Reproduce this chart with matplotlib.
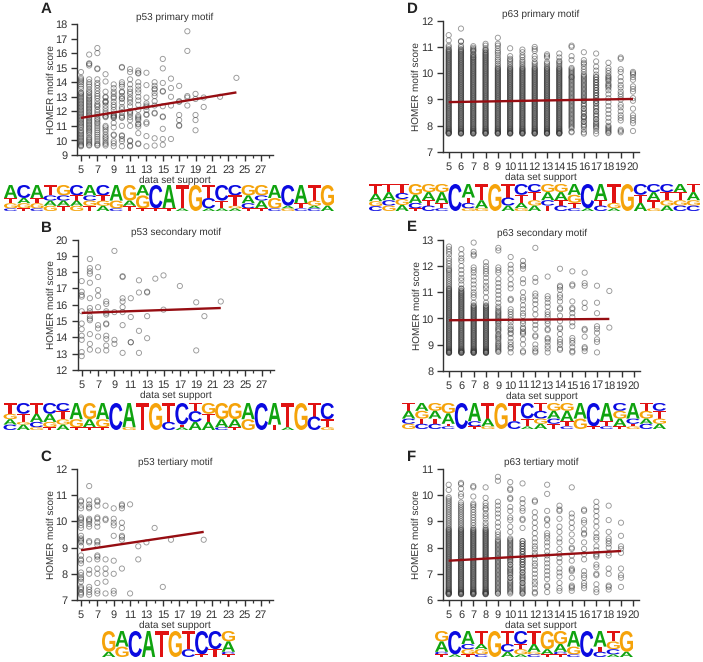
import matplotlib
matplotlib.use('Agg')
import matplotlib.pyplot as plt
from matplotlib.font_manager import FontProperties
from matplotlib.patches import PathPatch
from matplotlib.textpath import TextPath
from matplotlib.transforms import Affine2D
from matplotlib.ticker import MultipleLocator
import re

plt.rcParams['font.family'] = ['Liberation Sans', 'DejaVu Sans']
plt.rcParams['text.hinting'] = 'no_hinting'
plt.rcParams['text.hinting_factor'] = 1

# --- panel A, p53 primary
a_support = [5, 6, 7, 8, 9, 10, 11, 12, 13, 14, 15, 16, 17, 18, 19, 20, 22, 24]
a_scores = [
    [9.6,9.65,9.7,9.8,9.9,10.0,10.1,10.2,10.3,10.4,10.5,10.6,10.7,10.85,10.95,11.05,11.15,11.25,11.35,11.45,11.55,11.65,11.75,11.85,11.95,12.05,12.15,12.25,12.35,12.45,12.55,12.65,12.75,12.85,12.95,13.05,13.15,13.25,13.3,13.55,13.7,13.85,14.0,14.1,14.2,14.3,14.7],
    [9.65,9.7,9.8,9.9,10.0,10.1,10.2,10.35,10.5,10.6,10.7,10.8,10.9,11.0,11.1,11.2,11.3,11.4,11.5,11.6,11.7,11.8,11.9,12.0,12.1,12.2,12.3,12.4,12.5,12.6,12.7,12.8,12.9,13.0,13.1,13.25,13.35,13.5,13.7,13.85,14.0,14.2,15.15,15.25,15.3,15.9],
    [9.65,9.7,9.8,9.95,10.1,10.25,10.4,10.55,10.7,10.85,11.0,11.15,11.25,11.4,11.5,11.65,11.8,11.95,12.1,12.3,12.4,12.5,12.7,12.9,13.05,13.2,13.4,13.6,13.8,13.95,14.2,14.9,14.95,16.0,16.35],
    [9.65,9.75,9.85,10.0,10.15,10.25,10.4,10.6,10.75,10.9,11.0,11.6,11.65,11.7,11.85,12.0,12.2,12.4,12.6,12.65,12.7,12.95,13.0,13.35,14.05,14.55],
    [9.6,9.8,9.95,10.35,10.4,10.9,11.2,11.55,11.6,11.65,11.7,11.75,11.85,12.1,12.3,12.45,12.65,12.9,13.0,13.2,13.35,13.6,13.85],
    [9.6,9.95,10.1,10.3,10.35,11.0,11.55,11.6,11.7,11.9,12.15,12.3,12.6,12.85,12.9,13.05,13.3,13.35,13.7,13.85,14.0,15.0,15.05],
    [9.6,9.65,9.95,10.0,11.0,11.4,11.6,11.8,11.9,12.0,12.35,12.6,12.8,12.95,13.2,13.35,13.55,13.85,14.2,14.7,14.9],
    [9.75,9.8,10.5,10.95,11.1,11.15,11.4,11.5,11.6,11.7,12.1,12.45,12.75,13.0,13.3,13.5,13.75,14.0,14.6,14.65,14.8],
    [9.6,10.3,11.15,11.25,11.75,11.8,12.1,12.3,12.4,12.55,12.95,13.8,14.65],
    [9.65,10.15,11.85,11.9,12.4,12.7,13.05,13.25,13.5,13.55,13.75,14.0],
    [9.7,10.1,10.8,11.6,11.65,12.35,13.35,13.4,13.95,14.95,15.6],
    [10.1,12.4,13.0,13.6,14.25],
    [11.0,11.05,11.4,11.75,12.65,12.7,13.75],
    [12.4,12.95,13.05,16.15,17.5],
    [10.7,11.4,11.75,12.85,13.2],
    [12.3,12.95],
    [13.0],
    [14.3],
]
a_fit_x = [5, 24]
a_fit_y = [11.55, 13.3]

# --- panel B, p53 secondary
b_support = [5, 6, 7, 8, 9, 10, 11, 12, 13, 14, 15, 17, 19, 20, 22]
b_scores = [
    [12.85,13.1,13.85,14.1,14.5,14.85,15.6,16.5,16.6,16.8,17.45],
    [13.25,13.6,14.2,15.05,15.15,15.3,15.6,15.8,16.4,17.35,17.9,18.05,18.25,18.8],
    [13.2,14.05,14.55,14.75,15.85,16.55,16.9,17.7,18.3],
    [13.2,13.5,13.9,14.1,14.8,14.85,15.4,15.5,15.6,16.05,16.2],
    [13.6,13.85,15.55,19.3],
    [13.05,14.75,15.55,15.85,16.2,16.4,17.7,17.75],
    [13.7,13.7,15.25,16.4],
    [13.05,14.4,16.75,17.5],
    [13.95,15.3,16.75,16.8],
    [17.6],
    [15.7,17.8],
    [17.15],
    [13.2,16.15],
    [15.3],
    [16.2],
]
b_fit_x = [5, 22]
b_fit_y = [15.5, 15.8]

# --- panel C, p53 tertiary
c_support = [5, 6, 7, 8, 9, 10, 11, 12, 13, 14, 15, 16, 20]
c_scores = [
    [7.2,7.25,7.3,7.4,7.45,7.5,7.7,7.8,7.85,7.95,8.05,8.4,8.5,8.55,8.7,9.05,9.2,9.25,9.3,9.35,9.45,9.75,9.85,9.95,10.05,10.1,10.15,10.5,10.6,10.75,10.8],
    [7.2,7.3,7.4,7.5,8.0,8.15,8.55,9.2,9.25,9.8,9.9,10.0,10.05,10.1,10.5,10.55,10.65,10.8,11.35],
    [7.25,7.35,7.65,8.0,8.2,8.55,8.65,8.7,9.1,9.2,9.25,9.8,9.95,10.1,10.15,10.6,10.75,10.8],
    [7.25,7.7,8.0,8.2,8.55,10.05,10.1,10.6],
    [7.25,7.35,8.0,8.5,9.45,9.85,9.95,10.1,10.5],
    [8.2,9.3,9.4,9.45,9.75,9.95,10.5,10.6,10.65],
    [7.25,10.65],
    [8.55,9.05],
    [9.2],
    [9.75],
    [7.5],
    [9.3],
    [9.3],
]
c_fit_x = [5, 20]
c_fit_y = [8.9, 9.6]

# --- panel D, p63 primary (lower part of the columns is solid, so it is shared)
d_support = [5, 6, 7, 8, 9, 10, 11, 12, 13, 14, 15, 16, 17, 18, 19, 20]
d_core = [7.70,7.72,7.75,7.80,7.85,7.91,7.98,8.05,8.12,8.19,8.26,8.33,8.40,8.47,8.54,8.61,8.68,8.75,8.82,8.89,8.96,9.03,9.10,9.17,9.24,9.31,9.38,9.45,9.52,9.59,9.66,9.73,9.80,9.87,9.94,10.01,10.08,10.15,
          7.71,7.73,7.77,7.82,7.88,7.94,8.01,8.08,8.15,8.22,8.29,8.36,8.43,8.50,8.57,8.64,8.71,8.78,8.85,8.92,8.99,9.06,9.13,9.20,9.27,9.34,9.41,9.48,9.55,9.62,9.69,9.76,9.83,9.90,9.97,10.04,10.11,10.18]
d_upper = [10.25,10.32,10.39,10.46,10.53,10.6,10.67,10.74,10.81,10.88]
d_mid = [7.95,8.05,8.15,8.25,8.35,8.45,8.55,8.65,8.75,8.85,8.95,9.05,9.15,9.25,9.35,9.45,9.55,9.65,9.75,9.85]
d_scores = [
    d_core + d_upper + [10.22,10.29,10.36,10.43,10.50,10.57,10.64,10.71,10.78,10.85,10.92,10.99,11.05,11.25,11.45],
    d_core + d_upper + [10.22,10.29,10.36,10.43,10.50,10.57,10.64,10.71,10.78,10.85,10.92,10.99,11.05,11.2,11.22,11.7],
    d_core + d_upper + [10.22,10.29,10.36,10.43,10.50,10.57,10.62,10.7,10.85,10.92,10.97,11.03],
    d_core + d_upper + [10.22,10.29,10.36,10.43,10.50,10.57,10.64,10.71,10.78,10.88,10.95,11.05,11.12],
    d_core + [10.22,10.29,10.36,10.45,10.52,10.6,10.7,10.78,10.85,10.95,11.05,11.12,11.35],
    d_core + [10.22,10.29,10.36,10.43,10.5,10.55,10.65,10.95],
    d_core + [10.22,10.29,10.36,10.43,10.5,10.6,10.68,10.8,10.9],
    d_core + [10.22,10.29,10.36,10.42,10.55,10.65,10.85,10.92,11.0],
    d_core + [10.22,10.29,10.36,10.42,10.6,10.66,10.72],
    d_core + [10.22,10.29,10.36,10.42,10.47,10.6,10.75],
    d_mid + [7.75,7.78,7.9,8.0,8.1,8.2,8.3,8.4,8.5,8.6,8.7,8.8,8.9,9.0,9.1,9.2,9.3,9.4,9.5,9.6,9.7,9.8,9.85,9.9,9.95,10.0,10.05,10.1,10.15,10.2,10.5,10.65,11.0,11.05],
    d_mid + [7.7,7.75,7.85,8.0,8.15,8.3,8.35,8.5,8.65,8.8,8.95,9.0,9.1,9.2,9.3,9.4,9.5,9.6,9.7,9.8,9.9,9.95,10.05,10.15,10.25,10.35,10.4,10.5,10.8],
    d_mid + [7.7,7.8,7.9,8.0,8.1,8.25,8.4,8.55,8.7,8.85,8.95,9.05,9.15,9.25,9.35,9.45,9.55,9.65,9.75,9.85,9.95,10.1,10.25,10.45,10.75],
    [7.72,7.8,7.9,8.0,8.15,8.3,8.45,8.6,8.75,8.9,9.05,9.2,9.35,9.45,9.55,9.75,9.8,9.85,10.0,10.1,10.2,10.4,7.75,7.85,7.95,9.5,9.6,9.7,9.9],
    [7.75,7.8,7.85,8.2,8.3,8.4,8.55,8.7,8.8,9.0,9.1,9.2,9.3,9.45,9.55,9.7,9.85,10.05,10.15,10.55,10.6],
    [7.8,8.1,8.2,8.3,8.4,8.65,8.95,9.05,9.3,9.4,9.5,9.75,9.85,9.95,10.0,10.05],
]
d_fit_x = [5, 20]
d_fit_y = [8.9, 9.02]

# --- panel E, p63 secondary
e_support = [5, 6, 7, 8, 9, 10, 11, 12, 13, 14, 15, 16, 17, 18]
e_core = [8.68,8.7,8.72,8.76,8.8,8.86,8.93,9.0,9.07,9.14,9.21,9.28,9.35,9.42,9.49,9.56,9.63,9.7,9.77,9.84,9.91,9.98,10.05,10.12,10.19,10.26,10.33,10.4,10.47,
          8.69,8.71,8.74,8.78,8.83,8.89,8.96,9.03,9.1,9.17,9.24,9.31,9.38,9.45,9.52,9.59,9.66,9.73,9.8,9.87,9.94,10.01,10.08,10.15,10.22,10.29,10.36,10.43,10.5]
e_upper = [10.57,10.64,10.71,10.78,10.85,10.92,10.99,11.06,11.13]
e_mid = [8.72,8.8,8.9,9.0,9.12,9.25,9.35,9.5,9.6,9.72,9.85,9.95,10.05,10.15,10.25,10.38]
e_scores = [
    e_core + e_upper + [10.54,10.61,10.68,10.75,10.82,10.89,10.96,11.03,11.1,11.17,11.24,11.31,11.38,11.45,11.52,11.59,11.66,11.73,11.8,11.85,11.9,12.0,12.1,12.2,12.3,12.45,12.55,12.65,12.75],
    e_core + e_upper + [10.54,10.61,10.68,10.75,10.82,10.89,10.96,11.03,11.15,11.3,11.45,11.55,11.7,11.85,12.0,12.2,12.3,12.45,12.65],
    e_core + [10.6,10.8,10.9,11.0,11.15,11.3,11.45,11.6,11.75,11.85,11.95,12.4,12.45,12.55,12.9],
    e_core + [10.6,10.8,11.0,11.15,11.25,11.4,11.55,11.7,11.8,11.9,12.0,12.15],
    e_mid + [8.75,8.85,8.95,9.05,9.2,9.3,9.4,9.55,9.65,9.8,9.9,10.0,10.1,10.2,10.3,10.45,10.6,10.75,10.9,11.05,11.2,11.35,11.5,11.75,11.85,11.95,12.6,12.7],
    [8.7,8.85,8.9,9.0,9.1,9.25,9.4,9.45,9.55,9.6,9.7,9.85,9.95,10.05,10.15,10.25,10.35,10.7,10.75,11.15,11.3,11.5,11.75,11.9,12.05,12.35],
    [8.7,8.75,9.0,9.2,9.4,9.45,9.5,9.6,9.65,9.8,9.9,10.1,10.2,10.35,10.5,10.7,10.8,11.0,11.35,11.5,11.9,12.0,12.05,12.2],
    [8.7,8.75,8.85,9.0,9.3,9.35,9.6,9.75,9.9,10.15,10.35,10.55,10.7,10.85,10.95,11.4,11.55,12.7],
    [8.7,8.85,8.95,9.1,9.2,9.25,9.55,9.6,9.8,9.9,10.05,10.15,10.25,10.45,10.6,10.75,10.85,11.6],
    [8.8,8.85,9.0,9.1,9.2,9.4,9.6,9.65,9.9,10.1,10.35,10.4,10.65,10.8,10.9,11.1,11.2,11.25,11.9],
    [8.7,8.75,8.9,9.05,9.15,9.25,9.7,9.85,10.05,10.2,10.35,10.4,10.65,11.25,11.3,11.8],
    [8.75,8.85,8.9,9.3,9.55,9.6,10.4,10.6,11.25,11.35,11.75],
    [8.7,9.1,9.2,9.45,9.6,9.7,10.2,10.6,11.25],
    [9.65,11.05],
]
e_fit_x = [5, 18]
e_fit_y = [9.93, 9.98]

# --- panel F, p63 tertiary
f_support = [5, 6, 7, 8, 9, 10, 11, 12, 13, 14, 15, 16, 17, 18, 19]
f_core = [6.22,6.24,6.27,6.31,6.36,6.42,6.49,6.56,6.63,6.7,6.77,6.84,6.91,6.98,7.05,7.12,7.19,7.26,7.33,7.4,7.47,7.54,7.61,7.68,7.75,7.82,7.89,7.96,8.03,8.1,8.17,8.24,8.31,8.38,8.45,8.52,8.59,8.66,
          6.23,6.26,6.29,6.33,6.39,6.45,6.52,6.59,6.66,6.73,6.8,6.87,6.94,7.01,7.08,7.15,7.22,7.29,7.36,7.43,7.5,7.57,7.64,7.71,7.78,7.85,7.92,7.99,8.06,8.13,8.2,8.27,8.34,8.41,8.48,8.55,8.62,8.69]
f_mid = [6.25,6.35,6.45,6.55,6.65,6.75,6.85,6.95,7.05,7.15,7.25,7.35,7.45,7.55,7.65,7.75,7.85,7.95,8.05,8.15,8.25]
f_scores = [
    f_core + [8.73,8.8,8.87,8.94,9.01,9.08,9.15,9.22,9.29,9.36,9.43,9.5,9.57,9.64,9.71,9.78,9.85,9.92,10.2,10.4],
    f_core + [8.73,8.8,8.87,8.94,9.01,9.08,9.15,9.22,9.29,9.36,9.43,9.5,9.57,9.64,9.72,9.95,10.05,10.25,10.42,10.47],
    f_core + [8.75,8.85,8.95,9.05,9.15,9.25,9.35,9.45,9.55,9.62,9.68,9.95,10.3,10.35],
    f_core + [8.75,8.85,8.95,9.1,9.2,9.3,9.45,9.5,9.6,9.7,9.9,10.3],
    f_mid + [6.25,6.3,6.4,6.5,6.6,6.7,6.8,6.9,7.0,7.1,7.2,7.3,7.4,7.5,7.6,7.7,7.8,7.9,8.0,8.1,8.2,8.3,8.4,8.5,8.6,8.8,8.95,9.15,9.3,9.45,9.6,9.75,10.55,10.7],
    f_mid + [6.3,6.4,6.5,6.6,6.7,6.85,7.0,7.1,7.2,7.35,7.5,7.6,7.7,7.8,7.9,8.0,8.1,8.2,8.3,8.35,8.6,8.8,9.05,9.15,9.4,9.55,9.85,9.9,10.2,10.25,10.5],
    f_mid + [6.25,6.3,6.4,6.5,6.65,6.8,6.9,7.05,7.2,7.35,7.45,7.55,7.65,7.75,7.85,7.95,8.05,8.15,8.25,8.75,9.05,9.1,9.4,9.5,9.7,9.85,10.45],
    [6.25,6.3,6.45,6.6,6.7,6.85,7.0,7.15,7.3,7.4,7.55,7.7,7.8,7.95,8.05,8.2,8.35,8.55,8.75,8.95,9.15,9.35,9.75,9.8],
    [6.3,6.5,6.55,6.8,6.95,7.1,7.25,7.4,7.55,7.7,7.85,8.05,8.2,8.35,8.45,8.55,8.85,9.05,9.1,9.4,10.05,10.4],
    [6.35,6.45,6.65,6.9,7.05,7.2,7.45,7.6,7.75,7.95,8.2,8.35,8.6,8.8,9.1,9.4,9.45,9.6],
    [6.35,6.45,6.5,6.55,6.85,7.1,7.15,7.2,7.5,7.7,7.95,8.0,8.25,8.5,8.75,8.95,9.15,9.3,10.3],
    [6.45,6.55,6.65,6.85,6.95,7.1,7.55,7.75,7.95,8.2,8.5,8.55,8.7,8.95,9.05,9.4,9.45],
    [6.3,6.4,6.6,6.95,7.0,7.25,7.35,7.65,7.7,7.75,7.9,8.05,8.3,8.4,8.55,8.8,9.0,9.2,9.4,9.55,9.75],
    [6.4,6.5,6.55,7.0,7.2,7.7,7.8,8.0,8.15,8.25,8.35,8.6,9.05,9.6],
    [6.5,6.85,6.95,7.2,7.8,7.95,8.05,8.45,8.95],
]
f_fit_x = [5, 19]
f_fit_y = [7.5, 7.87]

# sequence logos: one string per position, top letter first, digits are relative heights
logo_a = ['A5T2G2C1','C5A2G2T1','A5T2G2C1','T4C2A2G2','G4C2A2T2','C4T2A2G2','A4C2G2T2','C4T2G2A2','A6G3C1','G6A2T2','A4G5T1','C9T1','A9T1','T9A1','G10','T5C4A1','C6T3A1','C4T4G1A1','G4A3C2T1','G4C2A3T1','A5G4C1','C8A1G1','A7T2C1','T6G2A1C1','G8A2']
logo_b = ['T4G2A2C2','C4T3G1A2','T4A3C2G1','C4A3G2T1','C3T3G2A2','A6G3T1','G6A3T1','A6G3T1','C10','A9G1','T10','G10','T7C3','C8T1A1','T3C4A3','G4T3A3','G6A3C1','G6A3T1','A6G4','C10','A8T2','T9A1','G10','T5C5','C6T3G1']
logo_c = ['G8A2','A6G4','C10','A10','T10','G10','T7C3','C9T1','C7T3','G4A4C1T1']
logo_d = ['T4A3G2C2','T3A3C2G2','T3C2G2A2','G4A3C2T1','G3A3T2C2','G3A4T2C1','C10','A5T2C2G1','T6A3G1','G10','T5C3A2','C4T3A2G1','C3T3G2A2','G3A3C2T2','G3A3T2C2','A4G3T2C1','C9A1','A6T2C2','T7G2A1','G10','C4T3A3','C3A3T3G1','C3T3G2A2','A3T3G2C2','T3A3G2C2']
logo_e = ['T3A3C2G2','A3G3T2C2','G3A3T2C2','G4A4T1C1','C10','A7C2T1','T6A3G1','G10','T7C3','C6T3A1','T3C3G2A2','G3A3C2T2','G3A4T2C1','A6G4','C9T1','A7T2C1','C3G3A3T1','A6C2T1G1','T3G3A2C2','C3T3G2A2']
logo_f = ['G4A4C1T1','C9A1','A5C2G2T1','T5A2G2C1','G10','T5C3A2','C5T2G2A1','T5A3G1C1','G7A2T1','G5A3C1T1','A6G3C1','C10','A6T2C2','T4G3C2A1','G8A2']

RING = '#333333'
FIT = '#960d12'
TEXT = '#333333'
LOGO_COL = {'A': '#0fa30f', 'C': '#0a0ae0', 'G': '#f5a30a', 'T': '#e01212'}
W, H = 703, 662


def add_panel(box, ylim, xlim_ticks, support, scores, fit_x, fit_y, title, letter, letter_xy, ypad):
    left, right, top, bottom, x5, x20 = box
    fig_ax = fig.add_axes([left / W, 1 - bottom / H, (right - left) / W, (bottom - top) / H])
    # x limits follow from where tick 5 and tick 20 sit in pixels
    per_unit = (x20 - x5) / 15
    fig_ax.set_xlim(5 + (left - x5) / per_unit, 5 + (right - x5) / per_unit)
    fig_ax.set_ylim(*ylim)
    xs, ys = [], []
    for s, col in zip(support, scores):
        xs += [s] * len(col)
        ys += col
    fig_ax.scatter(xs, ys, s=14, facecolors='none', edgecolors=RING, linewidths=0.65, alpha=0.5, zorder=3, clip_on=False)
    fig_ax.plot(fit_x, fit_y, color=FIT, lw=1.7, zorder=4, solid_capstyle='butt')
    for side in ['top', 'right']:
        fig_ax.spines[side].set_visible(False)
    for side in ['left', 'bottom']:
        fig_ax.spines[side].set_linewidth(1.0)
        fig_ax.spines[side].set_color(TEXT)
    fig_ax.set_xticks(xlim_ticks)
    fig_ax.xaxis.set_minor_locator(MultipleLocator(1))
    fig_ax.set_yticks(range(int(ylim[0]), int(ylim[1]) + 1))
    fig_ax.tick_params(axis='both', which='major', length=4, width=1.0, color=TEXT, labelsize=7.6, labelcolor=TEXT, pad=3)
    fig_ax.tick_params(axis='x', which='minor', length=2.5, width=0.9, color=TEXT)
    fig_ax.set_title(title, fontsize=7.2, color=TEXT, pad=3)
    fig_ax.set_xlabel('data set support', fontsize=7.2, color=TEXT, labelpad=0.5)
    fig_ax.set_ylabel('HOMER motif score', fontsize=7.2, color=TEXT, labelpad=ypad)
    fig.text(letter_xy[0] / W, 1 - letter_xy[1] / H, letter, fontsize=11, fontweight='bold', color='#222222', ha='center', va='center')


def draw_logo(ax, columns, x0, x1, y0, y1):
    prop = FontProperties(family='Liberation Sans', weight='bold')
    col_w = (x1 - x0) / len(columns)
    for i, col in enumerate(columns):
        parts = re.findall(r'([ACGT])(\d+)', col)
        total = sum(int(v) for _, v in parts)
        y = y0
        for base, v in parts:
            h = (y1 - y0) * int(v) / total
            glyph = TextPath((0, 0), base, size=10, prop=prop)
            bb = glyph.get_extents()
            tf = (Affine2D().translate(-bb.x0, -bb.y0).scale(col_w / bb.width, h / bb.height)
                  .translate(x0 + i * col_w, H - y - h))
            ax.add_patch(PathPatch(tf.transform_path(glyph), facecolor=LOGO_COL[base], edgecolor='none'))
            y += h


fig = plt.figure(figsize=(W / 100, H / 100), dpi=100)

odd_ticks = list(range(5, 28, 2))
all_ticks = list(range(5, 21))
add_panel((77, 273, 24, 155, 81, 81 + 15 * 8.18), (9, 18), odd_ticks, a_support, a_scores, a_fit_x, a_fit_y, 'p53 primary motif', 'A', (46, 9), -0.5)
add_panel((77.5, 274, 239.5, 370, 81.7, 81.7 + 15 * 8.18), (12, 20), odd_ticks, b_support, b_scores, b_fit_x, b_fit_y, 'p53 secondary motif', 'B', (46, 228), -0.5)
add_panel((77, 273, 469, 600, 81, 81 + 15 * 8.18), (7, 12), odd_ticks, c_support, c_scores, c_fit_x, c_fit_y, 'p53 tertiary motif', 'C', (46, 457), -0.5)
add_panel((442.7, 639.3, 20.7, 152, 448.7, 633), (7, 12), all_ticks, d_support, d_scores, d_fit_x, d_fit_y, 'p63 primary motif', 'D', (412, 9), -0.5)
add_panel((443.3, 640, 240, 370.7, 449, 634), (8, 13), all_ticks, e_support, e_scores, e_fit_x, e_fit_y, 'p63 secondary motif', 'E', (412, 227), -0.5)
add_panel((442.7, 639.3, 469, 600, 448.7, 633.3), (6, 11), all_ticks, f_support, f_scores, f_fit_x, f_fit_y, 'p63 tertiary motif', 'F', (412, 457), -0.5)

logo_ax = fig.add_axes([0, 0, 1, 1], zorder=-1)
logo_ax.set_xlim(0, W)
logo_ax.set_ylim(0, H)
logo_ax.axis('off')
draw_logo(logo_ax, logo_a, 4, 334, 185, 211)
draw_logo(logo_ax, logo_d, 369, 700, 184, 211)
draw_logo(logo_ax, logo_b, 3.5, 334, 403, 430)
draw_logo(logo_ax, logo_e, 402, 666, 403, 429)
draw_logo(logo_ax, logo_c, 102, 235, 631, 657)
draw_logo(logo_ax, logo_f, 435, 633, 631, 657)

fig.savefig('out.png', dpi=100)
